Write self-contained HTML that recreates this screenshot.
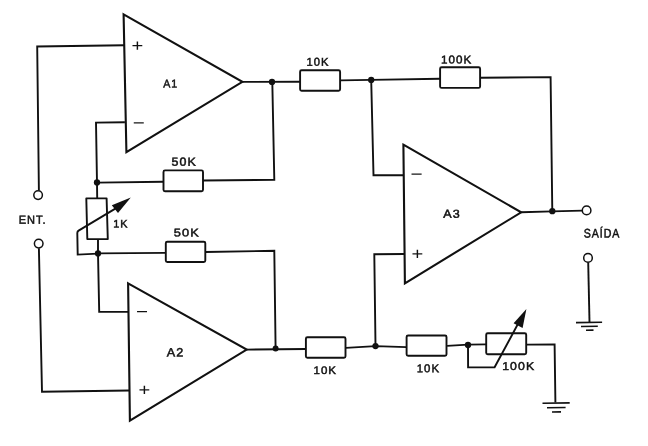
<!DOCTYPE html>
<html lang="pt">
<head>
<meta charset="utf-8">
<title>Amplificador de instrumentação</title>
<style>
html,body{margin:0;padding:0;background:#fff;}
body{width:648px;height:446px;overflow:hidden;}
svg{display:block;will-change:transform;}
text{text-rendering:geometricPrecision;font-family:"Liberation Sans",sans-serif;font-size:10.0px;letter-spacing:0.9px;fill:#111;stroke:#111;stroke-width:0.42;}
.w{fill:none;stroke:#111;stroke-width:1.9;stroke-linejoin:miter;stroke-linecap:butt;}
.t{fill:none;stroke:#111;stroke-width:2.1;stroke-linejoin:miter;}
.r{fill:#fff;stroke:#111;stroke-width:1.9;}
.d{fill:#111;}
.c{fill:#fff;stroke:#111;stroke-width:1.5;}
text.sg{stroke:none;letter-spacing:0;}
.g{fill:none;stroke:#111;stroke-width:1.6;}
</style>
</head>
<body>
<svg width="648" height="446" viewBox="0 0 648 446">
<rect width="648" height="446" fill="#fff"/>

<!-- input wires -->
<path class="w" d="M124.4 45.3 L37.2 46.5 L38.9 190.5"/>
<path class="w" d="M38.9 248.3 L42 391.8 L129.4 390.5"/>
<circle class="c" cx="38.1" cy="195.1" r="4.3"/>
<circle class="c" cx="38.7" cy="243.6" r="4.3"/>

<!-- A1 -->
<path class="t" d="M123.6 14.3 L242.4 81.9 L126.4 152.2 Z"/>
<!-- A2 -->
<path class="t" d="M128.1 283.3 L246.7 349.6 L129.9 420.7 Z"/>
<!-- A3 -->
<path class="t" d="M403.4 144.7 L521.2 212.3 L404.9 283.3 Z"/>

<!-- A1 minus input / gain network -->
<path class="w" d="M124.9 122.3 L96 122.6 L97 182.9 L97.2 198.5"/>
<path class="w" d="M97 182.6 L163.5 181.7"/>
<path class="w" d="M203 180.5 L274.3 179.8 L272.3 81.7"/>
<path class="w" d="M242.4 81.9 L300.2 81.7"/>
<path class="w" d="M98 239.1 L98 253.4 L99.2 311.9 L128.1 311.9"/>
<path class="w" d="M98 253.4 L165.5 252.9"/>
<path class="w" d="M205.7 252 L274.3 250.8 L275.6 348.4"/>
<path class="w" d="M246.7 349.6 L305.7 349"/>

<!-- top chain -->
<path class="w" d="M340.6 80.4 L371.2 79.9 L440.1 78.7"/>
<path class="w" d="M480.8 77.8 L550.6 77.1 L552.3 211.2"/>
<path class="w" d="M371.2 79.9 L373.5 175.3 L403.6 175.3"/>
<path class="w" d="M521.2 212.3 L552.3 211.4 L582.4 210.6"/>
<circle class="c" cx="586.6" cy="210.4" r="4.3"/>

<!-- bottom chain -->
<path class="w" d="M345.9 347.9 L375.5 346.1 L406.4 347.1"/>
<path class="w" d="M375.5 346.1 L374.3 254.2 L404.4 254"/>
<path class="w" d="M447.1 345.9 L468 344.6 L486.2 344.4"/>
<path class="w" d="M527 344.6 L554.6 344.4 L555.4 402.5"/>

<!-- output ground -->
<circle class="c" cx="588" cy="257.9" r="4.3"/>
<path class="w" d="M588.2 262.5 L589.5 322"/>
<path class="g" d="M576 322.6 L602.1 322.2 M581 326.5 L597.8 326.3 M586 330.2 L593.5 330.1"/>
<path class="g" d="M542.5 403.3 L569.7 402.9 M547 407.7 L565.6 407.5 M552 412 L561 411.9"/>

<!-- resistors -->
<rect class="r" x="163.5" y="170.4" width="39.5" height="20.8" rx="1.5"/>
<rect class="r" x="165.8" y="241.7" width="39.5" height="20.3" rx="1.5"/>
<rect class="r" x="300.1" y="70.2" width="40" height="20.5" rx="1.5"/>
<rect class="r" x="440.1" y="67.2" width="40" height="20.7" rx="1.5"/>
<rect class="r" x="305.9" y="337.2" width="39.6" height="20.5" rx="1.5"/>
<rect class="r" x="406.6" y="335.5" width="39.9" height="20.3" rx="1.5"/>
<rect class="r" x="486.2" y="333.3" width="40" height="21" rx="1.5"/>
<path class="r" stroke-linejoin="round" d="M86.3 198.4 L106.6 198.4 L107.8 239.1 L87.3 239.1 Z"/>

<!-- pot wipers -->
<path class="w" d="M468 344.6 L468.1 367.4 L494.6 367.3 L519.5 321"/>
<path class="d" d="M526.4 309 L522.6 328 L513.6 323.2 Z"/>
<path class="w" d="M98 253.6 L77.7 254.6 L77.3 233 Q77.3 231.4 78.6 230.6 L117 207.6"/>
<path class="d" d="M130.8 197.6 L118 213 L111.8 205.2 Z"/>

<!-- junction dots -->
<circle class="d" cx="272" cy="81.9" r="3.15"/>
<circle class="d" cx="371.2" cy="79.9" r="3.15"/>
<circle class="d" cx="97" cy="182.5" r="3.15"/>
<circle class="d" cx="98" cy="253.4" r="3.15"/>
<circle class="d" cx="275.6" cy="348.4" r="3"/>
<circle class="d" cx="375.5" cy="346.1" r="3.15"/>
<circle class="d" cx="468" cy="345" r="3.15"/>
<circle class="d" cx="552.3" cy="211.2" r="3.15"/>

<!-- signs -->
<text class="sg" transform="translate(131.41 51.18) rotate(0.03) scale(2.016 1.677)">+</text>
<text class="sg" transform="translate(132.69 128.45) rotate(0.03) scale(2.058 1.700)">−</text>
<text class="sg" transform="translate(135.99 317.35) rotate(0.03) scale(2.058 1.700)">−</text>
<text class="sg" transform="translate(138.61 395.38) rotate(0.03) scale(2.016 1.677)">+</text>
<text class="sg" transform="translate(410.38 179.65) rotate(0.03) scale(2.078 1.700)">−</text>
<text class="sg" transform="translate(411.61 259.48) rotate(0.03) scale(2.016 1.677)">+</text>

<!-- labels -->
<text transform="translate(163.20 87.46) rotate(0.03) scale(1.066 1.137)">A1</text>
<text transform="translate(166.64 356.55) rotate(0.03) scale(1.259 1.205)">A2</text>
<text transform="translate(443.14 217.86) rotate(0.03) scale(1.253 1.164)">A3</text>
<text transform="translate(306.48 65.76) rotate(0.03) scale(1.119 1.137)">10K</text>
<text transform="translate(440.96 63.56) rotate(0.03) scale(1.161 1.137)">100K</text>
<text transform="translate(171.46 165.85) rotate(0.03) scale(1.242 1.178)">50K</text>
<text transform="translate(173.66 236.46) rotate(0.03) scale(1.278 1.123)">50K</text>
<text transform="translate(113.20 227.47) rotate(0.03) scale(1.089 1.110)">1K</text>
<text transform="translate(313.47 373.97) rotate(0.03) scale(1.150 1.096)">10K</text>
<text transform="translate(416.67 372.16) rotate(0.03) scale(1.140 1.137)">10K</text>
<text transform="translate(502.13 370.06) rotate(0.03) scale(1.227 1.137)">100K</text>
<text transform="translate(18.73 223.75) rotate(0.03) scale(1.106 1.178)">ENT.</text>
<text transform="translate(583.84 237.54) rotate(0.03) scale(1.058 1.247)">SAÍDA</text>
</svg>
</body>
</html>
